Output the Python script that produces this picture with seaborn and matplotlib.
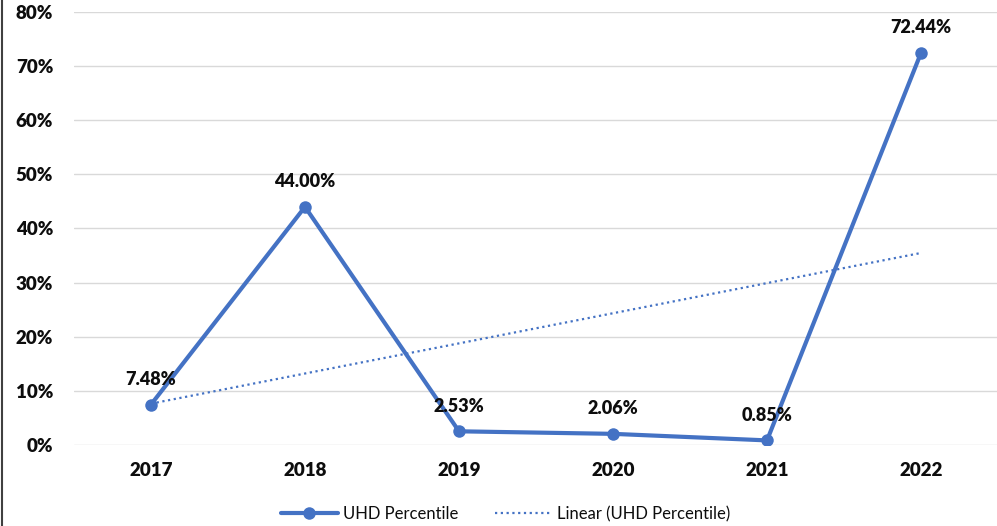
import matplotlib
matplotlib.use("Agg")
import matplotlib.pyplot as plt
from matplotlib.lines import Line2D
from matplotlib.ticker import FuncFormatter
import seaborn as sns
import numpy as np
import pandas as pd

# datos
years = ["2017", "2018", "2019", "2020", "2021", "2022"]
uhd_pct = [7.48, 44.00, 2.53, 2.06, 0.85, 72.44]

blue = "#4472C4"

sns.set_style("white")
plt.rcParams["font.family"] = ["Lato", "DejaVu Sans"]
plt.rcParams["text.color"] = "#0D0D0D"
plt.rcParams["xtick.color"] = "#0D0D0D"
plt.rcParams["ytick.color"] = "#0D0D0D"

df = pd.DataFrame({"year": years, "pct": uhd_pct})
df["x"] = np.arange(len(years))

# linea de tendencia (ajuste lineal como en Excel)
coef = np.polyfit(df["x"], df["pct"], 1)
df["trend"] = np.polyval(coef, df["x"])

fig = plt.figure(figsize=(9.97, 5.26), dpi=100)
ax = fig.add_axes([74 / 997, 1 - 445 / 526, 924 / 997, 433 / 526])

sns.lineplot(data=df, x="x", y="pct", ax=ax, color=blue, linewidth=3,
             marker="o", markersize=9, markeredgewidth=0, zorder=3)
sns.lineplot(data=df, x="x", y="trend", ax=ax, color=blue, linewidth=1.6,
             linestyle=(0, (1, 1.6)), zorder=2)

ax.set_xlim(-0.5, len(years) - 0.5)
ax.set_ylim(0, 80)
ax.set_yticks(np.arange(0, 81, 10))
ax.yaxis.set_major_formatter(FuncFormatter(lambda v, p: f"{v:.0f}%"))
ax.set_xticks(df["x"])
ax.set_xticklabels(years)
ax.set_xlabel("")
ax.set_ylabel("")
ax.grid(axis="y", color="#D9D9D9", linewidth=1)
ax.set_axisbelow(True)
for s in ax.spines.values():
    s.set_visible(False)
ax.tick_params(axis="both", length=0, labelsize=13.5)
ax.tick_params(axis="y", pad=15)
ax.tick_params(axis="x", pad=12)
for lbl in ax.get_xticklabels() + ax.get_yticklabels():
    lbl.set_fontweight("heavy")

# etiquetas de datos
for xi, v in zip(df["x"], df["pct"]):
    ax.annotate(f"{v:.2f}%", (xi, v), xytext=(0, 12), textcoords="offset points",
                ha="center", va="bottom", fontsize=13, fontweight="heavy")

handles = [
    Line2D([], [], color=blue, linewidth=3, marker="o", markersize=9, markeredgewidth=0),
    Line2D([], [], color=blue, linewidth=1.6, linestyle=(0, (1, 1.6))),
]
fig.legend(handles, ["UHD Percentile", "Linear (UHD Percentile)"], loc="center",
           bbox_to_anchor=(0.507, 1 - 514 / 526), ncol=2, frameon=False,
           fontsize=12, handlelength=3.4, columnspacing=2.2, handletextpad=0.3)

fig.add_artist(Line2D([1.5 / 997, 1.5 / 997], [0, 1], color="#404040", linewidth=1.5,
                      transform=fig.transFigure))

fig.savefig("out.png", dpi=100)
